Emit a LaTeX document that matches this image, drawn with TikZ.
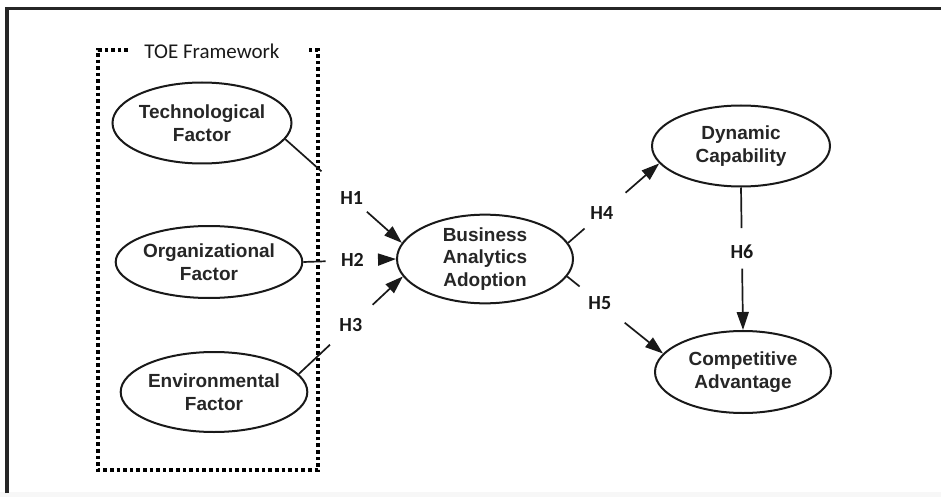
\documentclass[tikz,border=0pt]{standalone}
\usepackage{fontspec}
\setmainfont{Liberation Sans}
\newfontfamily\calib{Carlito}
\usetikzlibrary{shapes.geometric,arrows.meta,calc}
\newcommand\hypline[6]{%
  \draw[conn] (#1) -- ($(#1)!#3!(#2)$);
  \draw[conn,arr] ($(#1)!#4!(#2)$) -- (#2);
  \node[hlab] at ($(#1)!#5!(#2)$) {#6};}
\begin{document}
\begin{tikzpicture}[x=1pt,y=-1pt,
  ell/.style={ellipse, draw=black!90, line width=2pt, inner sep=0pt, align=center,
    text=black!85, font=\bfseries\fontsize{19}{22.5}\selectfont},
  conn/.style={draw=black!90, line width=1.7pt},
  arr/.style={-{Triangle[length=18pt,width=12pt]}},
  hlab/.style={font=\calib\bfseries\fontsize{20}{24}\selectfont, text=black!90, inner sep=0pt},
  toe/.style={line width=3.6pt, dash pattern=on 3.6pt off 3pt, black}]
\useasboundingbox (0,0) rectangle (941,497);
\fill[gray!6] (0,492) rectangle (941,497);
\draw[line width=3.5pt, black!85] (7,493) -- (7,8.5) -- (941,8.5);
% TOE framework box
\draw[toe] (128,50) -- (98,50) -- (98,470) -- (318,470) -- (318,50) -- (307,50);
\node[font=\calib\fontsize{21}{24}\selectfont, text=black!90] (toelab) at (212,51) {TOE Framework};
% nodes
\node[ell, minimum width=179pt, minimum height=81pt] (tech) at (202,123) {Technological\\Factor};
\node[ell, minimum width=179pt, minimum height=72pt] (org) at (209,262) {Organizational\\Factor};
\node[ell, minimum width=178pt, minimum height=80pt] (env) at (214,392) {Environmental\\Factor};
\node[ell, minimum width=176pt, minimum height=82pt] (baa) at (485,259) {Business\\Analytics\\Adoption};
\node[ell, minimum width=178pt, minimum height=81pt] (dc) at (741,146) {Dynamic\\Capability};
\node[ell, minimum width=176pt, minimum height=82pt] (ca) at (743,372) {Competitive\\Advantage};
% hypotheses
\hypline{tech.349}{baa.169}{0.31}{0.70}{0.57}{H1}
\hypline{org.east}{baa.west}{0.24}{0.83}{0.53}{\raisebox{-3pt}{H2}}
\hypline{env.12}{baa.192}{0.30}{0.71}{0.50}{H3}
\hypline{baa.11}{dc.192}{0.18}{0.63}{0.37}{H4}
\hypline{baa.348}{ca.167}{0.13}{0.60}{0.34}{\raisebox{-3pt}{H5}}
\hypline{dc.south}{ca.north}{0.285}{0.57}{0.45}{H6}
\end{tikzpicture}
\end{document}
